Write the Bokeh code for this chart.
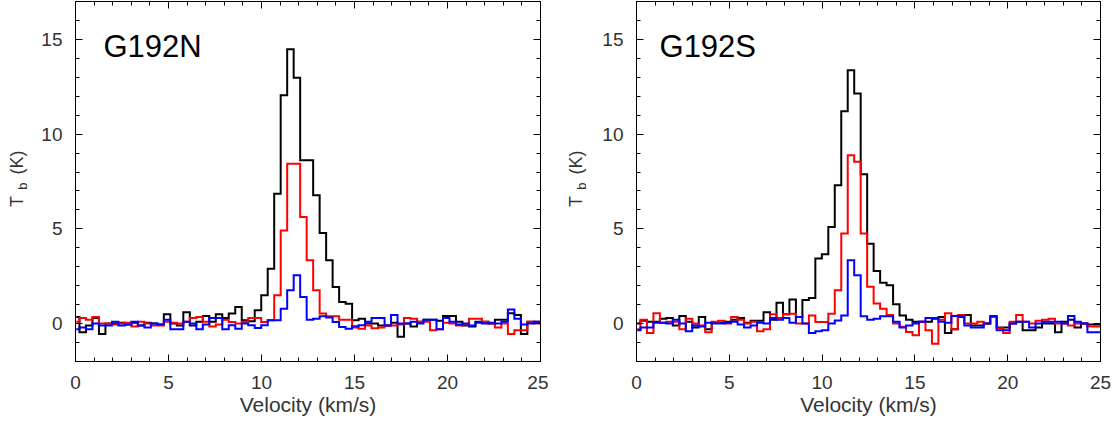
import numpy as np
from bokeh.plotting import figure
from bokeh.models import Range1d, LinearAxis, SingleIntervalTicker, Label, CustomLabelingPolicy
from bokeh.layouts import row
from bokeh.embed import file_html
from bokeh.resources import INLINE

# spectrometer channel grid (km/s)
CHAN_START = 0.0385
CHAN_WIDTH = 0.349
N_CHAN = 73
velocity = CHAN_START + CHAN_WIDTH * np.arange(N_CHAN)

# ---------------- G192N ----------------
n_black = [0.35, -0.45, -0.1, 0.3, -0.55, 0.0, 0.0, 0.05, -0.05, 0.05, -0.1, 0.05, 0.0, -0.05,
           0.5, 0.0, -0.1, 0.6, -0.1, 0.1, 0.4, 0.1, 0.5, 0.3, 0.53, 0.88, 0.18, 0.12, 0.70,
           1.49, 2.90, 6.86, 12.05, 14.48, 12.97, 8.62, 8.62, 6.77, 4.78, 3.34, 1.93, 1.14,
           1.05, 0.18, 0.26, 0.0, 0.0, -0.1, -0.1, 0.05, -0.7, 0.0, -0.15, 0.1, 0.2, 0.2,
           0.15, 0.4, 0.4, 0.1, -0.1, -0.15, 0.1, 0.1, 0.0, 0.2, 0.2, 0.55, 0.45, -0.55,
           0.1, 0.1, 0.1]
n_red = [0.1, 0.3, 0.2, 0.35, 0.0, 0.0, -0.05, 0.0, 0.05, -0.15, 0.1, 0.0, -0.1, -0.1,
         0.1, 0.05, 0.0, 0.1, 0.3, 0.35, 0.1, -0.15, -0.05, 0.2, 0.09, 0.0, 0.1, 0.3, 0.3,
         0.09, 0.18, 1.49, 4.92, 8.44, 8.44, 5.63, 3.34, 1.76, 0.53, 0.39, 0.39, 0.21,
         0.21, -0.2, -0.27, -0.1, -0.25, -0.2, -0.1, -0.1, -0.05, 0.3, 0.25, 0.1, 0.1,
         -0.35, -0.3, 0.05, 0.0, -0.1, -0.05, 0.25, 0.25, 0.1, 0.0, -0.2, 0.0, -0.55,
         -0.35, -0.35, 0.1, 0.0, 0.0]
n_blue = [-0.3, -0.2, -0.3, 0.0, -0.1, -0.1, 0.1, -0.1, -0.05, 0.1, -0.1, -0.2, 0.0, -0.05,
          0.2, -0.3, -0.3, 0.1, 0.0, -0.3, -0.05, 0.3, 0.3, -0.3, -0.09, -0.27, 0.0, -0.09,
          -0.23, -0.09, 0.18, 0.18, 0.79, 1.76, 2.55, 1.41, 0.21, 0.26, 0.39, 0.32, 0.09,
          -0.18, -0.27, -0.14, -0.09, 0.1, 0.3, 0.3, -0.1, 0.45, 0.0, 0.0, 0.1, 0.0, 0.2,
          0.2, -0.3, 0.3, 0.1, -0.05, 0.0, -0.1, 0.05, 0.0, 0.05, 0.0, 0.1, 0.75, 0.25,
          -0.05, 0.0, 0.1, 0.1]

# ---------------- G192S ----------------
s_black = [0.0, 0.15, 0.1, 0.1, 0.25, 0.3, -0.1, 0.4, 0.1, -0.2, 0.35, -0.3, 0.05, 0.05,
           0.1, 0.2, 0.3, 0.05, 0.15, 0.15, 0.6, 0.2, 1.1, 0.5, 1.27, 0.35, 1.25, 1.35,
           3.43, 3.66, 5.10, 7.30, 11.21, 13.37, 12.14, 7.88, 4.22, 2.78, 2.15, 2.02, 1.02,
           0.43, 0.2, 0.1, 0.1, 0.1, 0.25, 0.35, -0.5, -0.3, 0.35, 0.45, -0.1, -0.1, 0.0,
           0.35, -0.2, -0.2, 0.0, 0.1, -0.35, -0.35, -0.2, 0.0, 0.0, -0.45, 0.1, 0.2, -0.2,
           0.0, -0.05, -0.05, -0.05]
s_red = [-0.3, 0.2, -0.5, 0.55, 0.05, 0.1, 0.1, -0.3, 0.25, 0.0, -0.1, -0.45, 0.1, 0.15,
         0.0, 0.35, 0.2, 0.0, 0.1, -0.4, -0.3, 0.5, 0.3, 0.5, 0.52, 0.0, 0.0, 0.43, 0.08,
         0.08, 0.52, 1.76, 4.75, 8.89, 8.54, 4.75, 1.94, 1.06, 0.79, 0.45, 0.0, -0.17,
         -0.44, -0.62, 0.1, -0.35, -1.06, 0.2, 0.55, -0.3, 0.45, 0.0, 0.0, 0.1, 0.0, 0.35,
         -0.25, -0.5, 0.1, 0.45, 0.1, 0.0, 0.15, 0.2, 0.25, 0.0, 0.0, -0.1, 0.0, 0.0,
         -0.15, -0.15, -0.15]
s_blue = [-0.35, -0.2, -0.2, 0.05, 0.05, 0.0, 0.2, 0.0, -0.4, -0.1, -0.15, 0.05, 0.0, 0.0,
          0.05, 0.1, -0.05, -0.2, -0.1, 0.05, 0.0, 0.3, 0.2, 0.3, 0.04, 0.35, 0.0, -0.49,
          -0.4, -0.35, 0.0, 0.17, 0.43, 3.34, 2.55, 0.39, 0.21, 0.26, 0.39, 0.39, 0.1,
          -0.2, -0.1, 0.0, 0.1, 0.3, 0.3, 0.1, 0.05, 0.4, 0.4, -0.1, -0.2, -0.2, 0.0, 0.4,
          -0.35, -0.35, 0.0, 0.1, 0.1, -0.2, 0.0, 0.1, 0.1, 0.1, 0.0, 0.4, 0.1, 0.0, -0.45,
          -0.45, -0.45]

X_RANGE = (0, 25)
Y_RANGE = (-2, 17)
FONT = "Liberation Sans"
TXT = "#333333"
H = 421


def style_axis(ax, labels=True):
    ax.major_tick_in = 7
    ax.major_tick_out = 0
    ax.minor_tick_in = 4
    ax.minor_tick_out = 0
    ax.axis_line_color = "black"
    ax.major_tick_line_color = "black"
    ax.minor_tick_line_color = "black"
    if labels:
        ax.major_label_text_font = FONT
        ax.major_label_text_font_size = "19px"
        ax.major_label_text_color = TXT
    else:
        ax.major_label_text_font_size = "0px"
        ax.major_label_standoff = 0
        ax.axis_label_standoff = 0
        ax.major_label_policy = CustomLabelingPolicy(
            code="for (const i of indices) { indices.unset(i) }")


def make_panel(name, black, red, blue, title_x, width, left, right):
    p = figure(width=width, height=H, x_range=Range1d(*X_RANGE), y_range=Range1d(*Y_RANGE),
               output_backend="svg", toolbar_location=None,
               min_border_left=left, min_border_right=right,
               min_border_top=1, min_border_bottom=60)
    p.grid.visible = False
    p.outline_line_color = "black"
    p.background_fill_color = "white"

    p.xaxis.ticker = SingleIntervalTicker(interval=5, num_minor_ticks=5)
    p.yaxis.ticker = SingleIntervalTicker(interval=5, num_minor_ticks=5)
    style_axis(p.xaxis[0])
    style_axis(p.yaxis[0])
    p.xaxis.major_label_standoff = 14
    p.yaxis.major_label_standoff = 13
    p.xaxis.axis_label = "Velocity (km/s)"
    p.xaxis.axis_label_text_font = FONT
    p.xaxis.axis_label_text_font_size = "21px"
    p.xaxis.axis_label_text_font_style = "normal"
    p.xaxis.axis_label_text_color = TXT
    p.xaxis.axis_label_standoff = 1

    top = LinearAxis(ticker=SingleIntervalTicker(interval=5, num_minor_ticks=5))
    style_axis(top, labels=False)
    p.add_layout(top, "above")
    rgt = LinearAxis(ticker=SingleIntervalTicker(interval=5, num_minor_ticks=5))
    style_axis(rgt, labels=False)
    p.add_layout(rgt, "right")

    for ys, col in ((black, "#000000"), (red, "#ff0000"), (blue, "#0000ff")):
        p.step(velocity, ys, mode="center", line_color=col, line_width=2, line_join="miter")

    p.add_layout(Label(x=title_x, y=14.6, text=name, text_font=FONT, text_font_size="31px",
                       text_color="black", text_baseline="alphabetic"))
    return p


def make_ylabel(width, x_t):
    """Narrow strip holding the rotated y-axis title T_b (K); x in pixels, y in Tb units."""
    f = figure(width=width, height=H, x_range=Range1d(0, width), y_range=Range1d(*Y_RANGE),
               output_backend="svg", toolbar_location=None, x_axis_type=None,
               y_axis_type=None, min_border=0)
    f.grid.visible = False
    f.outline_line_color = None
    f.add_layout(Label(x=x_t, y=6.45, text="T", angle=np.pi / 2, text_font=FONT,
                       text_font_size="18px", text_color=TXT, text_align="center",
                       text_baseline="middle"))
    f.add_layout(Label(x=x_t + 6, y=7.25, text="b", angle=np.pi / 2, text_font=FONT,
                       text_font_size="13px", text_color=TXT, text_align="center",
                       text_baseline="middle"))
    f.add_layout(Label(x=x_t, y=8.5, text="(K)", angle=np.pi / 2, text_font=FONT,
                       text_font_size="18px", text_color=TXT, text_align="center",
                       text_baseline="middle"))
    return f


yl1 = make_ylabel(30, 16)
p1 = make_panel("G192N", n_black, n_red, n_blue, 1.5, 518, 45, 8)
yl2 = make_ylabel(42, 27)
p2 = make_panel("G192S", s_black, s_red, s_blue, 1.24, 521, 46, 11)

layout = row(yl1, p1, yl2, p2)

open("out.html", "w").write(file_html(layout, INLINE))
